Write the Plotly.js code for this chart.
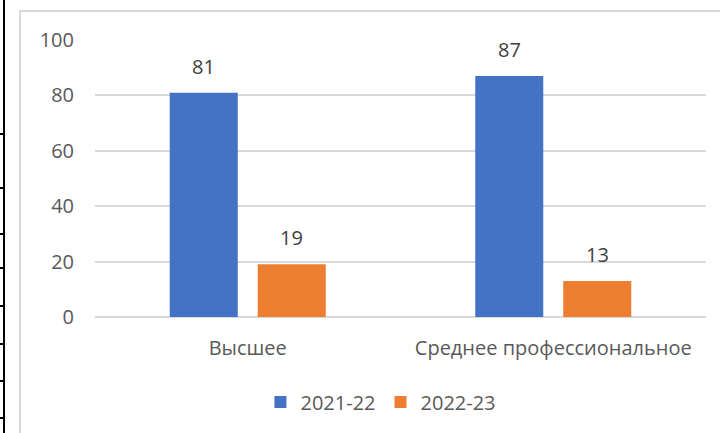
<!DOCTYPE html>
<html>
<head>
<meta charset="utf-8">
<script src="https://cdn.plot.ly/plotly-3.0.1.min.js"></script>
<style>
  body { margin: 0; background: #fff; overflow: hidden; }
  #chart { width: 720px; height: 433px; position: absolute; left: 0; top: 0; }
  #frame { position: absolute; left: 19px; top: 10px; width: 720px; height: 440px;
           border: 2px solid #d9d9d9; pointer-events: none; }
  #rule { position: absolute; left: 3px; top: 0; width: 2px; height: 433px; background: #000; }
  .tick { position: absolute; left: 0; width: 5px; height: 2px; background: #000; }
</style>
</head>
<body>
<div id="chart"></div>
<div id="frame"></div>
<div id="rule"></div>
<script>
var categories = ['Высшее', 'Среднее профессиональное'];
var series1 = [81, 87];
var series2 = [19, 13];
var seriesNames = ['2021-22', '2022-23'];
var yTicks = [0, 20, 40, 60, 80, 100];
var tableRows = [133, 187, 233, 267, 305, 343, 380, 417];

var font = "'Open Sans', sans-serif";

tableRows.forEach(function (y) {
    let d = document.createElement('div');
    d.className = 'tick';
    d.style.top = y + 'px';
    document.body.appendChild(d);
});

let traces = [
    { x: categories, y: series1, name: seriesNames[0], type: 'bar', marker: { color: '#4472c4' } },
    { x: categories, y: series2, name: seriesNames[1], type: 'bar', marker: { color: '#ed7d31' } }
];

let annotations = [];
traces.forEach(function (t, k) {
    t.y.forEach(function (v, i) {
        annotations.push({
            x: i + (k === 0 ? -0.144 : 0.144),
            y: v,
            xref: 'x',
            yref: 'y',
            text: String(v),
            showarrow: false,
            yanchor: 'bottom',
            yshift: 11,
            font: { family: font, size: 20, color: '#404040' }
        });
    });
});

let layout = {
    width: 720,
    height: 433,
    margin: { l: 95, r: 14, t: 40, b: 116 },
    paper_bgcolor: 'rgba(0,0,0,0)',
    plot_bgcolor: 'rgba(0,0,0,0)',
    barmode: 'group',
    bargap: 0.424,
    bargroupgap: 0.227,
    showlegend: true,
    legend: {
        orientation: 'h',
        x: 0.468,
        xanchor: 'center',
        y: -0.307,
        yanchor: 'middle',
        font: { family: font, size: 20, color: '#595959' },
        itemwidth: 30
    },
    xaxis: {
        type: 'category',
        showgrid: false,
        showline: false,
        ticks: '',
        ticklabelstandoff: 17,
        tickfont: { family: font, size: 20, color: '#595959' }
    },
    yaxis: {
        range: [0, 100],
        tickvals: yTicks,
        showgrid: true,
        gridcolor: '#d9d9d9',
        gridwidth: 2,
        zeroline: true,
        zerolinecolor: '#d9d9d9',
        zerolinewidth: 2,
        ticks: '',
        ticklabelstandoff: 20,
        tickfont: { family: font, size: 20, color: '#595959' }
    },
    annotations: annotations,
    font: { family: font }
};

Plotly.newPlot('chart', traces, layout, { displayModeBar: false, staticPlot: true });
</script>
</body>
</html>
